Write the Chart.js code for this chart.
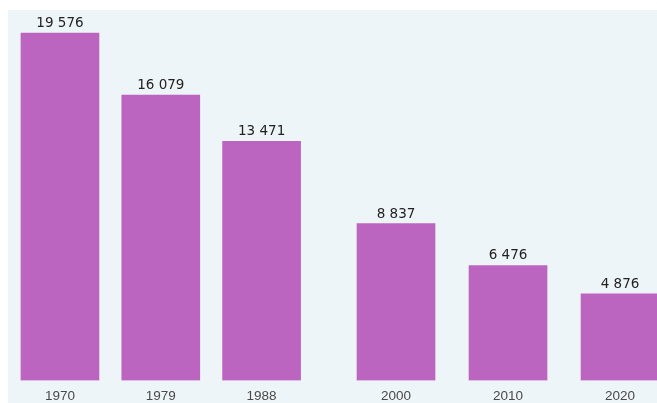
<!DOCTYPE html>
<html>
<head>
<meta charset="utf-8">
<script src="https://cdn.jsdelivr.net/npm/chart.js@4/dist/chart.umd.min.js"></script>
<style>
  html, body { margin: 0; padding: 0; background: #ffffff; overflow: hidden; }
  #wrap { width: 657px; height: 403px; position: relative; }
</style>
</head>
<body>
<div id="wrap"><canvas id="c" width="657" height="403"></canvas></div>
<script>
const years = [1970, 1979, 1988, 2000, 2010, 2020];
const values = [19576, 16079, 13471, 8837, 6476, 4876];

const fmt = v => String(v).replace(/\B(?=(\d{3})+(?!\d))/g, ' ');

const bgPlugin = {
  id: 'bg',
  beforeDraw(chart) {
    const { ctx, chartArea } = chart;
    ctx.save();
    ctx.fillStyle = '#eef5f8';
    ctx.fillRect(chartArea.left, chartArea.top, chart.width - chartArea.left, chart.height - chartArea.top);
    ctx.restore();
  }
};

const labelPlugin = {
  id: 'vals',
  afterDatasetsDraw(chart) {
    const { ctx } = chart;
    const meta = chart.getDatasetMeta(0);
    ctx.save();
    ctx.font = '13.5px "DejaVu Sans", sans-serif';
    ctx.fillStyle = '#222222';
    ctx.textAlign = 'center';
    ctx.textBaseline = 'alphabetic';
    meta.data.forEach((bar, i) => {
      ctx.fillText(fmt(values[i]), bar.x, bar.y - 6);
    });
    ctx.restore();
  }
};

new Chart(document.getElementById('c'), {
  type: 'bar',
  data: {
    datasets: [{
      data: years.map((y, i) => ({ x: y, y: values[i] })),
      backgroundColor: '#bb64c0',
      borderWidth: 0,
      barThickness: 78
    }]
  },
  options: {
    responsive: false,
    animation: false,
    layout: { padding: { left: 8, top: 10, right: 0, bottom: -10 } },
    plugins: { legend: { display: false }, tooltip: { enabled: false } },
    scales: {
      x: {
        type: 'linear',
        offset: false,
        min: 1965.36,
        max: 2023.3,
        grid: { display: false, drawTicks: false },
        border: { display: false },
        afterBuildTicks(scale) { scale.ticks = years.map(v => ({ value: v })); },
        ticks: {
          autoSkip: false,
          maxRotation: 0,
          padding: 8.2,
          color: '#4a4a4a',
          font: { family: '"Liberation Sans", Arial, sans-serif', size: 13.5 },
          callback: v => String(v)
        }
      },
      y: {
        display: false,
        min: 0,
        max: 20870
      }
    }
  },
  plugins: [bgPlugin, labelPlugin]
});
</script>
</body>
</html>
